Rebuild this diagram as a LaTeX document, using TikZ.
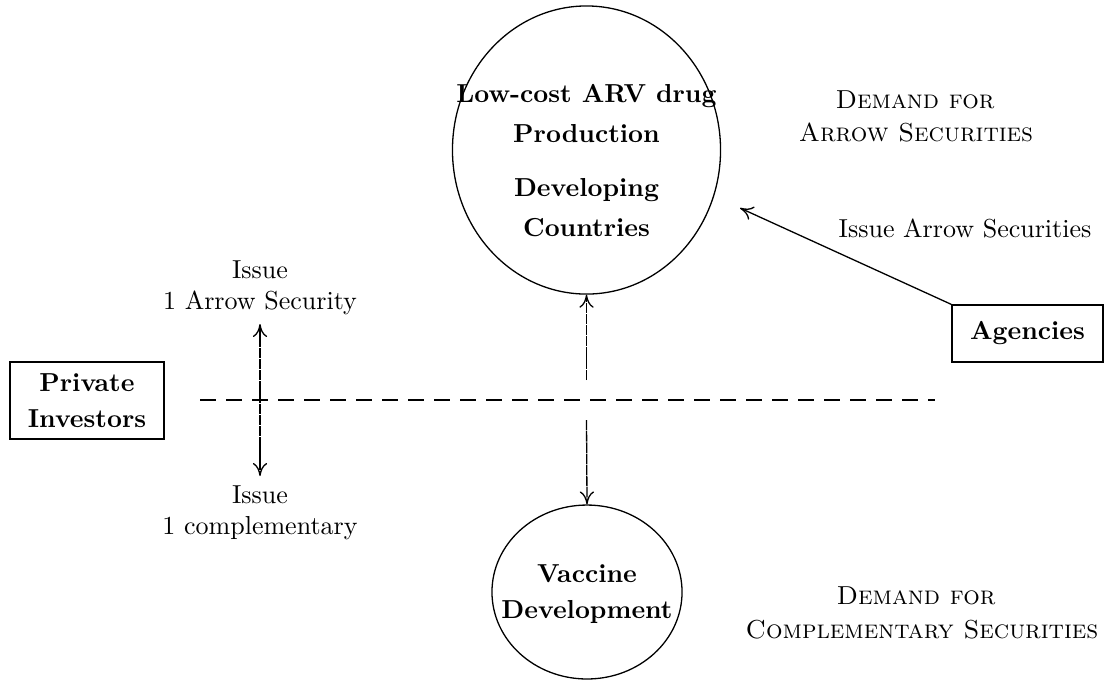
\documentclass[tikz,border=0pt]{standalone}
\usetikzlibrary{shapes.geometric,arrows.meta}
\begin{document}
\begin{tikzpicture}[x=0.3846pt,y=-0.3846pt,line width=0.5pt,
  tip/.tip={Computer Modern Rightarrow[length=5pt,width=5.5pt]},
  lbl/.style={anchor=base,inner sep=0pt},
  bl/.style={lbl,font=\bfseries},
  sc/.style={lbl,font=\scshape},
  boxnode/.style={draw,inner sep=0pt,align=center,font=\bfseries},
  ell/.style={draw,ellipse,inner sep=0pt},
  vline/.style={dash pattern=on 4pt off 0.3pt},
  hline/.style={dash pattern=on 6pt off 4pt}]
\useasboundingbox (0,0) rectangle (1105,682);
% main shapes
\node[ell,minimum width=103.1pt,minimum height=110.8pt] (arv) at (586.5,150) {};
\node[ell,minimum width=73.1pt,minimum height=66.9pt] (vac) at (587,592) {};
\node[boxnode,minimum width=58.1pt,minimum height=21.9pt] (ag) at (1027.5,333.5) {Agencies};
\node[boxnode,minimum width=59.2pt,minimum height=29.6pt] (pi) at (87,400.5) {Private\\[2pt]Investors};
% texts in ellipses
\node[bl] (t1) at (586.5,102) {Low-cost ARV drug};
\node[bl] (t2) at (586.5,142) {Production};
\node[bl] (t3) at (586.5,196) {Developing};
\node[bl] (t4) at (586.5,236) {Countries};
\node[bl] (v1) at (587,582) {Vaccine};
\node[bl] (v2) at (587,618) {Development};
% labels
\node[sc] (d1) at (915,108) {Demand for};
\node[sc] (d2) at (916,141) {Arrow Securities};
\node[lbl] (ia) at (965,237) {Issue Arrow Securities};
\node[sc] (e1) at (916,604) {Demand for};
\node[sc] (e2) at (922,638) {Complementary Securities};
% connectors
\coordinate (h1) at (200,400);
\coordinate (h2) at (935,400);
\draw[hline] (h1) -- (h2);
\coordinate (la) at (260,324);
\coordinate (lb) at (260,476);
\draw[vline,{tip}-{tip}] (la) -- (lb);
\node[above,align=center] (i1) at (la) {Issue\\1 Arrow Security};
\node[below,align=center] (j1) at (lb) {Issue\\1 complementary};
\coordinate (mu) at (586.5,380);
\draw[vline,-{tip}] (mu) -- (arv.south);
\coordinate (md) at (586.5,420);
\draw[vline,-{tip}] (md) -- (vac.north);
\coordinate (at) at (740,208);
\draw[-{tip}] (ag.north west) -- (at);
\end{tikzpicture}
\end{document}
